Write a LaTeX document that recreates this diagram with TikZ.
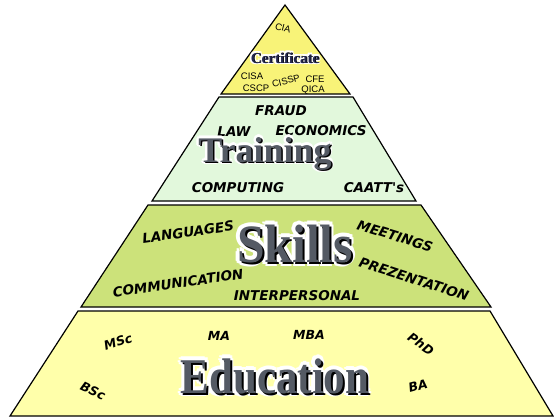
\documentclass[tikz,border=0pt]{standalone}
\usepackage{fontspec}
\usetikzlibrary{backgrounds}
\newfontfamily\tagfont{DejaVu Sans}
\newfontfamily\certfont{Liberation Sans}
\newfontfamily\headfont{Liberation Serif}
\definecolor{certyellow}{RGB}{248,243,120}
\definecolor{traingreen}{RGB}{226,248,220}
\definecolor{skillgreen}{RGB}{204,226,122}
\definecolor{eduyellow}{RGB}{255,255,170}
\definecolor{metal}{RGB}{84,90,100}
\definecolor{navy}{RGB}{36,40,78}
\tikzset{
  band/.style={draw=black, line width=1.2pt},
  tag/.style={font=\tagfont\bfseries\itshape\fontsize{13.5}{14}\selectfont, inner sep=0pt},
  edutag/.style={font=\tagfont\bfseries\itshape\fontsize{12.5}{13}\selectfont, inner sep=0pt},
  certtag/.style={font=\certfont\fontsize{9.5}{10}\selectfont, inner sep=0pt},
  halo/.style={text=white, inner sep=0pt, anchor=base},
  shade/.style={text=black, inner sep=0pt, anchor=base},
  title/.style={text=metal, inner sep=0pt, anchor=base}
}
\begin{document}
\begin{tikzpicture}[x=1pt,y=-1pt]
      \useasboundingbox[fill=white] (0,0) rectangle (554,418);
      \filldraw[band, fill=eduyellow] (78,311) -- (490,311) -- (553,416) -- (10,416) -- cycle;
      \filldraw[band, fill=skillgreen] (148,205) -- (421,205) -- (491,307) -- (81,307) -- cycle;
      \filldraw[band, fill=traingreen] (219,97) -- (353,97) -- (416,201) -- (152,201) -- cycle;
      \filldraw[band, fill=certyellow] (285,5) -- (350,94) -- (221,94) -- cycle;
      \node[name=cia, certtag, rotate=-15] at (283,28){CIA};
      \node[name=cisa, certtag] at (252,76){CISA};
      \node[name=cscp, certtag] at (256,88){CSCP};
      \node[name=cissp, certtag, rotate=15] at (286,81){CISSP};
      \node[name=cfe, certtag] at (315,79){CFE};
      \node[name=qica, certtag] at (313,90){QICA};
      \foreach \a in {0,45,...,315}
        \node[halo, name=cert-halo-\a, shift={(\a:1.8pt)}] at (285,63){\headfont\bfseries\fontsize{15}{15}\selectfont Certificate};
      \node[shade, name=cert-shade, shift={(0.8pt,-0.8pt)}] at (285,63){\headfont\bfseries\fontsize{15}{15}\selectfont Certificate};
      \node[title, name=cert-title, text=navy] at (285,63){\headfont\bfseries\fontsize{15}{15}\selectfont Certificate};
      \node[name=fraud, tag] at (281,111){FRAUD};
      \node[name=law, tag] at (234,132){LAW};
      \node[name=economics, tag] at (321,131){ECONOMICS};
      \node[name=computing, tag] at (238,188){COMPUTING};
      \node[name=caatts, tag] at (374,188){CAATT's};
      \foreach \a in {0,45,...,315}
        \node[halo, name=train-halo-\a, shift={(\a:2.5pt)}] at (265,162){\headfont\bfseries\fontsize{36}{36}\selectfont Training};
      \node[shade, name=train-shade, shift={(1.5pt,-1.5pt)}] at (265,162){\headfont\bfseries\fontsize{36}{36}\selectfont Training};
      \node[title, name=train-title] at (265,162){\headfont\bfseries\fontsize{36}{36}\selectfont Training};
      \node[name=languages, tag, rotate=8] at (188,232){LANGUAGES};
      \node[name=meetings, tag, rotate=-17] at (395,236){MEETINGS};
      \node[name=communication, tag, rotate=8] at (178,283){COMMUNICATION};
      \node[name=interpersonal, tag] at (297,296){INTERPERSONAL};
      \node[name=prezentation, tag, rotate=-18] at (414,279){PREZENTATION};
      \foreach \a in {0,45,...,315}
        \node[halo, name=skill-halo-\a, shift={(\a:4pt)}] at (295,262){\headfont\bfseries\fontsize{54}{54}\selectfont\scalebox{0.92}[1]{Skills}};
      \node[shade, name=skill-shade, shift={(2pt,-2pt)}] at (295,262){\headfont\bfseries\fontsize{54}{54}\selectfont\scalebox{0.92}[1]{Skills}};
      \node[title, name=skill-title] at (295,262){\headfont\bfseries\fontsize{54}{54}\selectfont\scalebox{0.92}[1]{Skills}};
      \node[name=msc, edutag, rotate=18] at (118,342){MSc};
      \node[name=ma, edutag] at (219,336){MA};
      \node[name=mba, edutag] at (309,335){MBA};
      \node[name=phd, edutag, rotate=-35] at (421,344){PhD};
      \node[name=bsc, edutag, rotate=-25] at (93,391){BSc};
      \node[name=ba, edutag, rotate=15] at (418,386){BA};
      \foreach \a in {0,45,...,315}
        \node[halo, name=edu-halo-\a, shift={(\a:3.5pt)}] at (275,393){\headfont\bfseries\fontsize{50}{50}\selectfont\scalebox{0.86}[1]{Education}};
      \node[shade, name=edu-shade, shift={(2pt,-2pt)}] at (275,393){\headfont\bfseries\fontsize{50}{50}\selectfont\scalebox{0.86}[1]{Education}};
      \node[title, name=edu-title] at (275,393){\headfont\bfseries\fontsize{50}{50}\selectfont\scalebox{0.86}[1]{Education}};
\end{tikzpicture}
\end{document}
